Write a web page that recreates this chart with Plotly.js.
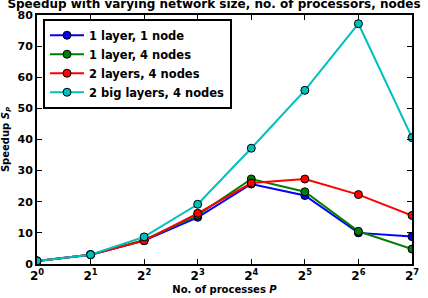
<!DOCTYPE html>
<html><head><meta charset="utf-8">
<script src="https://cdn.plot.ly/plotly-3.0.1.min.js"></script>
<style>html,body{margin:0;padding:0;background:#fff}#c{width:428px;height:298px}</style>
</head><body><div id="c"></div>
<script>
const procs = [1, 2, 4, 8, 16, 32, 64, 128];
const tickLabels = ['2<sup>0</sup>','2<sup>1</sup>','2<sup>2</sup>','2<sup>3</sup>','2<sup>4</sup>','2<sup>5</sup>','2<sup>6</sup>','2<sup>7</sup>'];
const seriesNames = ['1 layer, 1 node', '1 layer, 4 nodes', '2 layers, 4 nodes', '2 big layers, 4 nodes'];
const oneLayerOneNode = [1, 3, 7.5, 15.0, 25.7, 22.0, 10.0, 8.8];
const oneLayerFourNodes = [1, 3, 7.7, 15.7, 27.3, 23.2, 10.5, 4.8];
const twoLayersFourNodes = [1, 3, 7.5, 16.3, 26.0, 27.3, 22.3, 15.6];
const twoBigLayersFourNodes = [1, 3, 8.7, 19.2, 37.2, 55.8, 77.2, 40.6];
const colors = ['#0000ff', '#008000', '#ff0000', '#00bfbf'];
const allSeries = [oneLayerOneNode, oneLayerFourNodes, twoLayersFourNodes, twoBigLayersFourNodes];

const font = {family: 'DejaVu Sans, sans-serif', color: '#000', weight: 'bold'};
const traces = allSeries.map((ys, i) => ({
  x: procs, y: ys, name: seriesNames[i], type: 'scatter', mode: 'lines+markers',
  line: {color: colors[i], width: 2},
  marker: {color: colors[i], size: 8, line: {color: '#000', width: 1}}
}));

const layout = {
  width: 428, height: 298,
  margin: {l: 37, r: 16, t: 15, b: 34},
  paper_bgcolor: '#fff', plot_bgcolor: '#fff',
  showlegend: true,
  title: {text: 'Speedup with varying network size, no. of processors, nodes',
    font: Object.assign({}, font, {size: 12}), x: 0.5, xanchor: 'center', xref: 'container',
    y: 1.0, yanchor: 'top', yref: 'container', pad: {t: 0}},
  xaxis: {type: 'log', range: [0, Math.log10(128)], tickvals: procs, ticktext: tickLabels,
    ticks: 'inside', ticklen: 5, tickwidth: 1, tickcolor: '#000',
    showline: true, linecolor: '#000', linewidth: 2, mirror: 'allticks', showgrid: false, zeroline: false,
    tickfont: Object.assign({}, font, {size: 12}),
    title: {text: 'No. of processes <i>P</i>', font: Object.assign({}, font, {size: 10}), standoff: 4}},
  yaxis: {range: [0, 80], tickvals: [0,10,20,30,40,50,60,70,80],
    ticks: 'inside', ticklen: 5, tickwidth: 1, tickcolor: '#000',
    showline: true, linecolor: '#000', linewidth: 2, mirror: 'allticks', showgrid: false, zeroline: false,
    tickfont: Object.assign({}, font, {size: 11}),
    title: {text: 'Speedup <i>S</i><sub><i>P</i></sub>', font: Object.assign({}, font, {size: 10}), standoff: 8}},
  legend: {x: 0.016, y: 0.985, xanchor: 'left', yanchor: 'top', bgcolor: '#fff',
    bordercolor: '#000', borderwidth: 2, font: Object.assign({}, font, {size: 11.5}),
    tracegroupgap: 0, itemwidth: 34}
};
Plotly.newPlot('c', traces, layout, {displayModeBar: false, staticPlot: true});
</script></body></html>
